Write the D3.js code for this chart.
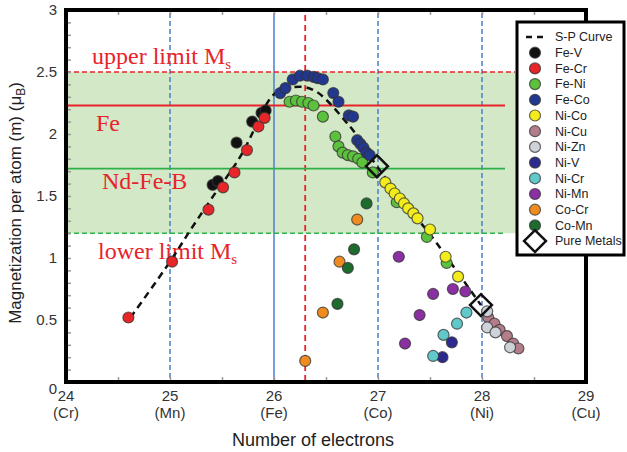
<!DOCTYPE html>
<html>
<head>
<meta charset="utf-8">
<script src="https://cdn.jsdelivr.net/npm/d3@7"></script>
<style>
  body { margin: 0; background: #fff; }
  svg { display: block; }
</style>
</head>
<body>
<div id="chart"></div>
<script>
// Daten
const seriesNames = ["Fe-V", "Fe-Cr", "Fe-Ni", "Fe-Co", "Ni-Co", "Ni-Cu", "Ni-Zn", "Ni-V", "Ni-Cr", "Ni-Mn", "Co-Cr", "Co-Mn"];

const feV = [[25.41, 1.59], [25.46, 1.62], [25.64, 1.93], [25.79, 2.10], [25.88, 2.17], [25.92, 2.19]];
const feCr = [[24.60, 0.52], [25.02, 0.97], [25.37, 1.39], [25.51, 1.57], [25.62, 1.69], [25.74, 1.87], [25.85, 2.06], [25.91, 2.13]];
const feNi = [[26.15, 2.26], [26.21, 2.27], [26.27, 2.26], [26.33, 2.25], [26.38, 2.23], [26.47, 2.14], [26.59, 1.98],
  [26.62, 1.90], [26.66, 1.85], [26.71, 1.83], [26.76, 1.82], [26.81, 1.80], [26.85, 1.77], [26.95, 1.69],
  [27.18, 1.45], [27.47, 1.17], [27.66, 0.96]];
const feCo = [[26.06, 2.33], [26.11, 2.37], [26.18, 2.44], [26.25, 2.47], [26.32, 2.47], [26.38, 2.46], [26.42, 2.45],
  [26.47, 2.44], [26.57, 2.33], [26.62, 2.26], [26.72, 2.15], [26.76, 2.14], [26.80, 1.95], [26.83, 1.92],
  [26.86, 1.89], [26.89, 1.85], [26.92, 1.83]];
const niCo = [[27.07, 1.61], [27.12, 1.56], [27.16, 1.52], [27.21, 1.48], [27.25, 1.44], [27.29, 1.40], [27.34, 1.36],
  [27.38, 1.32], [27.50, 1.23], [27.65, 1.01], [27.77, 0.85]];
const niCu = [[28.06, 0.52], [28.12, 0.47], [28.17, 0.42], [28.24, 0.37], [28.30, 0.31], [28.35, 0.27]];
const niZn = [[28.05, 0.57], [28.05, 0.44], [28.13, 0.40], [28.27, 0.28]];
const niV = [[27.71, 0.32], [27.62, 0.20]];
const niCr = [[27.85, 0.56], [27.76, 0.47], [27.63, 0.38], [27.53, 0.21]];
const niMn = [[27.20, 1.01], [27.53, 0.71], [27.72, 0.75], [27.84, 0.73], [27.40, 0.54], [27.26, 0.31]];
const coCr = [[26.80, 1.31], [26.63, 0.97], [26.47, 0.56], [26.30, 0.17]];
const coMn = [[26.89, 1.44], [26.77, 1.07], [26.71, 0.92], [26.61, 0.63]];

const spCurve = [[24.62, 0.52], [25.0, 0.97], [25.2, 1.23], [25.4, 1.48], [25.67, 1.81], [25.8, 2.02], [25.88, 2.17],
  [26.03, 2.34], [26.28, 2.38], [26.41, 2.34], [26.51, 2.27], [26.68, 2.11], [26.76, 2.03], [26.9, 1.85],
  [26.99, 1.74], [27.2, 1.5], [27.52, 1.17], [27.71, 0.95], [27.99, 0.62]];
const pureMetals = [[26.99, 1.74], [27.99, 0.62]];

const xTicks = [24, 25, 26, 27, 28, 29];
const xElements = ["(Cr)", "(Mn)", "(Fe)", "(Co)", "(Ni)", "(Cu)"];
const yTicks = [0, 0.5, 1, 1.5, 2, 2.5, 3];

const msUpper = 2.5;
const msLower = 1.2;
const msFe = 2.23;
const msNdFeB = 1.72;
const dashedElectrons = [25, 27, 28];
const solidElectrons = [26];
const redElectron = 26.3;

// Farben
const colors = {
  "Fe-V": "#111111", "Fe-Cr": "#e8262a", "Fe-Ni": "#5cc23d", "Fe-Co": "#22378e",
  "Ni-Co": "#f2ec1c", "Ni-Cu": "#b47d8a", "Ni-Zn": "#cdd3d8", "Ni-V": "#2c2a8e",
  "Ni-Cr": "#62c9cb", "Ni-Mn": "#8b30a3", "Co-Cr": "#f08c1f", "Co-Mn": "#1d6b2d"
};
const seriesData = [feV, feCr, feNi, feCo, niCo, niCu, niZn, niV, niCr, niMn, coCr, coMn];

const breite = 627, hoehe = 452;
const svg = d3.select("#chart").append("svg").attr("width", breite).attr("height", hoehe);

const x = d3.scaleLinear().domain([24, 29]).range([66, 586]);
const y = d3.scaleLinear().domain([0, 3]).range([382, 10]);

const red = "#e8232a";
const green = "#2fb04a";
const blue = "#4a80cc";

// Grüner Bereich
svg.append("rect")
  .attr("x", x(24)).attr("y", y(msUpper))
  .attr("width", 517 - x(24)).attr("height", y(msLower) - y(msUpper))
  .attr("fill", "#d3e8c6");

// Vertikale Linien
svg.selectAll(".vdash").data(dashedElectrons).enter().append("line")
  .attr("x1", d => x(d)).attr("x2", d => x(d)).attr("y1", 13).attr("y2", y(0))
  .attr("stroke", blue).attr("stroke-width", 1.5).attr("stroke-dasharray", "5,3");
svg.selectAll(".vsolid").data(solidElectrons).enter().append("line")
  .attr("x1", d => x(d)).attr("x2", d => x(d)).attr("y1", 13).attr("y2", y(0))
  .attr("stroke", blue).attr("stroke-width", 1.5);
svg.append("line")
  .attr("x1", x(redElectron)).attr("x2", x(redElectron)).attr("y1", 15).attr("y2", y(0))
  .attr("stroke", red).attr("stroke-width", 1.8).attr("stroke-dasharray", "6,4");

// Horizontale Linien
svg.append("line").attr("x1", x(24)).attr("x2", 515).attr("y1", y(msUpper)).attr("y2", y(msUpper))
  .attr("stroke", red).attr("stroke-width", 1.6).attr("stroke-dasharray", "5,3");
svg.append("line").attr("x1", x(24)).attr("x2", 505).attr("y1", y(msLower)).attr("y2", y(msLower))
  .attr("stroke", green).attr("stroke-width", 1.6).attr("stroke-dasharray", "5,3");
svg.append("line").attr("x1", x(24)).attr("x2", 505).attr("y1", y(msFe)).attr("y2", y(msFe))
  .attr("stroke", red).attr("stroke-width", 1.8);
svg.append("line").attr("x1", x(24)).attr("x2", 505).attr("y1", y(msNdFeB)).attr("y2", y(msNdFeB))
  .attr("stroke", green).attr("stroke-width", 1.8);

// Beschriftungen im Diagramm
const annot = svg.append("g").attr("font-family", "'Liberation Serif', 'Times New Roman', serif")
  .attr("fill", red).attr("font-size", 24);
const up = annot.append("text").attr("x", 92).attr("y", 64).text("upper limit M");
up.append("tspan").attr("font-size", 15).attr("dy", 5).text("s");
annot.append("text").attr("x", 96).attr("y", 131).text("Fe");
annot.append("text").attr("x", 102).attr("y", 189).text("Nd-Fe-B");
const low = annot.append("text").attr("x", 98).attr("y", 259).text("lower limit M");
low.append("tspan").attr("font-size", 15).attr("dy", 5).text("s");

// Achsen-Ticks
const tickColor = "#999";
const yAxisG = svg.append("g").attr("transform", `translate(${x(24)},0)`)
  .call(d3.axisLeft(y).tickValues(d3.range(0, 30).map(i => i / 10).concat([3]))
    .tickSize(-5).tickPadding(9)
    .tickFormat(d => yTicks.some(t => Math.abs(t - d) < 1e-6) ? d3.format("")(+d.toFixed(1)) : ""));
yAxisG.select(".domain").remove();
yAxisG.selectAll("line").attr("stroke", tickColor).attr("stroke-width", 1.5);
yAxisG.selectAll("text").attr("font-family", "Arial, 'Liberation Sans', sans-serif")
  .attr("font-size", 15).attr("fill", "#333");
yAxisG.selectAll(".tick").filter(d => d === 0).select("text").attr("dy", "0.75em");

const xAxisG = svg.append("g").attr("transform", `translate(0,${y(0)})`)
  .call(d3.axisBottom(x).tickValues(d3.range(24, 29.01, 0.5)).tickSize(-5).tickFormat(""));
xAxisG.select(".domain").remove();
xAxisG.selectAll("line").attr("stroke", tickColor).attr("stroke-width", 1.5);

const xTopG = svg.append("g").attr("transform", `translate(0,${y(3)})`)
  .call(d3.axisTop(x).tickValues(d3.range(24, 29.01, 0.5)).tickSize(-5).tickFormat(""));
xTopG.select(".domain").remove();
xTopG.selectAll("line").attr("stroke", tickColor).attr("stroke-width", 1.5);

const xLab = svg.append("g").attr("font-family", "Arial, 'Liberation Sans', sans-serif")
  .attr("font-size", 15).attr("fill", "#333").attr("text-anchor", "middle");
xLab.selectAll(".num").data(xTicks).enter().append("text")
  .attr("x", d => x(d)).attr("y", 401).text(d => d);
xLab.selectAll(".el").data(xTicks).enter().append("text")
  .attr("x", d => x(d)).attr("y", 418).text((d, i) => xElements[i]);

// Achsentitel
const titleFont = "Arial, 'Liberation Sans', sans-serif";
svg.append("text").attr("x", 313).attr("y", 446).attr("text-anchor", "middle")
  .attr("font-family", titleFont).attr("font-size", 18).attr("fill", "#222")
  .text("Number of electrons");
const yTitle = svg.append("text").attr("transform", "translate(21,203) rotate(-90)")
  .attr("text-anchor", "middle").attr("font-family", titleFont).attr("font-size", 17).attr("fill", "#222")
  .text("Magnetization per atom (m) (μ");
yTitle.append("tspan").attr("font-size", 12).attr("dy", 4).text("B");
yTitle.append("tspan").attr("dy", -4).text(")");

// S-P Kurve
const line = d3.line().x(d => x(d[0])).y(d => y(d[1])).curve(d3.curveCatmullRom);
svg.append("path").datum(spCurve).attr("d", line)
  .attr("fill", "none").attr("stroke", "#111").attr("stroke-width", 2.5).attr("stroke-dasharray", "7,5");

// Punkte
seriesNames.forEach((name, i) => {
  svg.append("g").selectAll("circle").data(seriesData[i]).enter().append("circle")
    .attr("cx", d => x(d[0])).attr("cy", d => y(d[1])).attr("r", 5.5)
    .attr("fill", colors[name]).attr("stroke", "#333").attr("stroke-opacity", 0.75).attr("stroke-width", 1.2);
});

// Reine Metalle
const diamond = d3.symbol().type(d3.symbolSquare).size(240);
svg.selectAll(".pure").data(pureMetals).enter().append("path")
  .attr("d", diamond)
  .attr("transform", d => `translate(${x(d[0])},${y(d[1])}) rotate(45)`)
  .attr("fill", "none").attr("stroke", "#111").attr("stroke-width", 2.5);

// Rahmen
svg.append("rect").attr("x", x(24)).attr("y", y(3))
  .attr("width", x(29) - x(24)).attr("height", y(0) - y(3))
  .attr("fill", "none").attr("stroke", "#000").attr("stroke-width", 4);

// Legende
const legend = svg.append("g");
legend.append("rect").attr("x", 517).attr("y", 22).attr("width", 107).attr("height", 233)
  .attr("fill", "#fff").attr("stroke", "#000").attr("stroke-width", 3);
const legY = i => 37 + i * 15.7;
const legFont = "Arial, 'Liberation Sans', sans-serif";
legend.append("line").attr("x1", 526).attr("x2", 545).attr("y1", legY(0)).attr("y2", legY(0))
  .attr("stroke", "#111").attr("stroke-width", 2.5).attr("stroke-dasharray", "6,5");
legend.append("text").attr("x", 555).attr("y", legY(0)).attr("dy", "0.35em")
  .attr("font-family", legFont).attr("font-size", 12.5).attr("fill", "#222").text("S-P Curve");
seriesNames.forEach((name, i) => {
  legend.append("circle").attr("cx", 535).attr("cy", legY(i + 1)).attr("r", 5.5)
    .attr("fill", colors[name]).attr("stroke", "#333").attr("stroke-opacity", 0.75).attr("stroke-width", 1.2);
  legend.append("text").attr("x", 555).attr("y", legY(i + 1)).attr("dy", "0.35em")
    .attr("font-family", legFont).attr("font-size", 12.5).attr("fill", "#222").text(name);
});
legend.append("path").attr("d", diamond)
  .attr("transform", `translate(535,${legY(13)}) rotate(45)`)
  .attr("fill", "#fff").attr("stroke", "#111").attr("stroke-width", 2.5);
legend.append("text").attr("x", 555).attr("y", legY(13)).attr("dy", "0.35em")
  .attr("font-family", legFont).attr("font-size", 12.5).attr("fill", "#222").text("Pure Metals");
</script>
</body>
</html>
